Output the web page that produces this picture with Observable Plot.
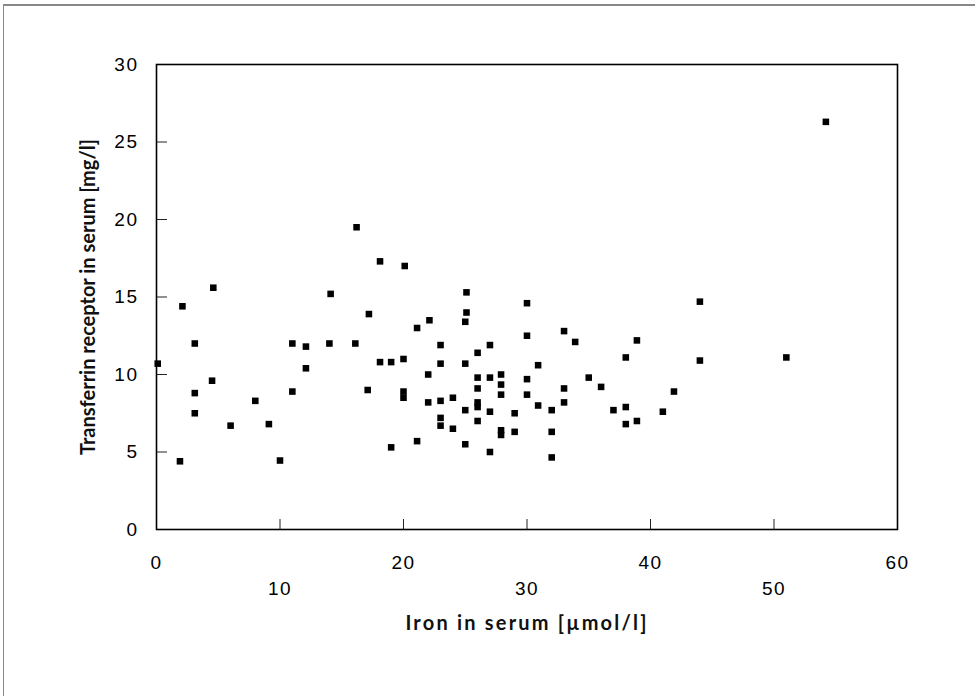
<!DOCTYPE html>
<html>
<head>
<meta charset="utf-8">
<script src="https://cdn.jsdelivr.net/npm/d3@7"></script>
<script src="https://cdn.jsdelivr.net/npm/@observablehq/plot@0.6"></script>
<style>
  html, body { margin: 0; padding: 0; background: #fff; }
  #wrap { position: relative; width: 975px; height: 696px; overflow: hidden; }
  #border { position: absolute; left: 3px; top: 4px; width: 980px; height: 700px;
            border-left: 1.5px solid #888; border-top: 2px solid #888; pointer-events: none; }
  #chart svg { display: block; }
  #chart svg g[aria-label="y-axis tick label"] text,
  #chart svg g[aria-label="x-axis tick label"] text { letter-spacing: 1.5px; }
</style>
</head>
<body>
<div id="wrap"><div id="chart"></div><div id="border"></div></div>
<script>
// Iron in serum [µmol/l]
const iron = [
  0.1, 1.9, 2.1, 3.1, 3.1, 3.1, 4.6, 4.5, 6.0, 8.0,
  9.1, 10.0, 11.0, 11.0, 12.1, 12.1, 14.1, 14.0, 16.1, 16.2,
  17.2, 17.1, 18.1, 18.1, 19.0, 19.0, 20.1, 25.1, 30.0, 22.1,
  21.1, 25.1, 25.0, 30.0, 23.0, 27.0, 26.0, 20.0, 23.0, 25.0,
  30.9, 22.0, 26.0, 27.0, 27.9, 27.9, 30.0, 26.0, 27.9, 30.0,
  20.0, 20.0, 22.0, 23.0, 24.0, 26.0, 26.0, 30.9, 25.0, 27.0,
  29.0, 23.0, 23.0, 24.0, 26.0, 27.9, 27.9, 29.0, 21.1, 25.0,
  27.0, 44.0, 33.0, 33.9, 38.9, 38.0, 44.0, 35.0, 36.0, 33.0,
  41.9, 32.0, 33.0, 37.0, 38.0, 41.0, 38.0, 38.9, 32.0, 32.0,
  51.0, 54.2
];
// Transferrin receptor in serum [mg/l]
const receptor = [
  10.7, 4.4, 14.4, 12.0, 8.8, 7.5, 15.6, 9.6, 6.7, 8.3,
  6.8, 4.45, 12.0, 8.9, 11.8, 10.4, 15.2, 12.0, 12.0, 19.5,
  13.9, 9.0, 17.3, 10.8, 10.8, 5.3, 17.0, 15.3, 14.6, 13.5,
  13.0, 14.0, 13.4, 12.5, 11.9, 11.9, 11.4, 11.0, 10.7, 10.7,
  10.6, 10.0, 9.8, 9.8, 10.0, 9.35, 9.7, 9.1, 8.7, 8.7,
  8.9, 8.5, 8.2, 8.3, 8.5, 8.2, 7.9, 8.0, 7.7, 7.6,
  7.5, 7.2, 6.7, 6.5, 7.0, 6.4, 6.1, 6.3, 5.7, 5.5,
  5.0, 14.7, 12.8, 12.1, 12.2, 11.1, 10.9, 9.8, 9.2, 9.1,
  8.9, 7.7, 8.2, 7.7, 7.9, 7.6, 6.8, 7.0, 6.3, 4.65,
  11.1, 26.3
];
const xInnerTicks = [10, 20, 30, 40, 50];
const xEvenLabels = [0, 20, 40, 60];
const xOddLabels = [10, 30, 50];
const yInnerTicks = [5, 10, 15, 20, 25];
const yLabels = [0, 5, 10, 15, 20, 25, 30];
const xTitle = "Iron in serum [µmol/l]";
const yTitle = "Transferrin receptor in serum [mg/l]";

const points = iron.map((x, i) => ({iron: x, receptor: receptor[i]}));

const chart = Plot.plot({
  width: 975,
  height: 696,
  marginLeft: 156,
  marginRight: 78,
  marginTop: 64,
  marginBottom: 167,
  style: {fontFamily: "'Liberation Sans', Arial, sans-serif", fontSize: "19px", color: "black", background: "white"},
  x: {domain: [0, 60]},
  y: {domain: [0, 30]},
  marks: [
    Plot.axisY(yInnerTicks, {tickSize: -11, tickFormat: () => "", label: null, stroke: "#222"}),
    Plot.axisY(yLabels, {tickSize: 0, tickPadding: 18, label: null, fontSize: 19}),
    Plot.axisX(xInnerTicks, {tickSize: -10, tickFormat: () => "", label: null, stroke: "#222"}),
    Plot.axisX(xEvenLabels, {tickSize: 0, tickPadding: 26, label: null, fontSize: 19}),
    Plot.axisX(xOddLabels, {tickSize: 0, tickPadding: 52, label: null, fontSize: 19}),
    Plot.frame({stroke: "black", strokeWidth: 1.6}),
    Plot.dot(points, {x: "iron", y: "receptor", symbol: "square", r: 3.7, fill: "black", stroke: null}),
    Plot.text([xTitle], {frameAnchor: "bottom", dy: 100, fontSize: 20, fontWeight: "bold", fontFamily: "Lato, 'Open Sans', sans-serif", fill: "#111"}),
    Plot.text([yTitle], {frameAnchor: "left", textAnchor: "middle", dx: -68, rotate: -90, fontSize: 20, fontWeight: "bold", fontFamily: "Lato, 'Open Sans', sans-serif", fill: "#111"})
  ]
});
document.getElementById("chart").appendChild(chart);
d3.select(chart).selectAll("text").filter(function() { return this.textContent === xTitle; })
  .style("letter-spacing", "2.2px");
</script>
</body>
</html>
